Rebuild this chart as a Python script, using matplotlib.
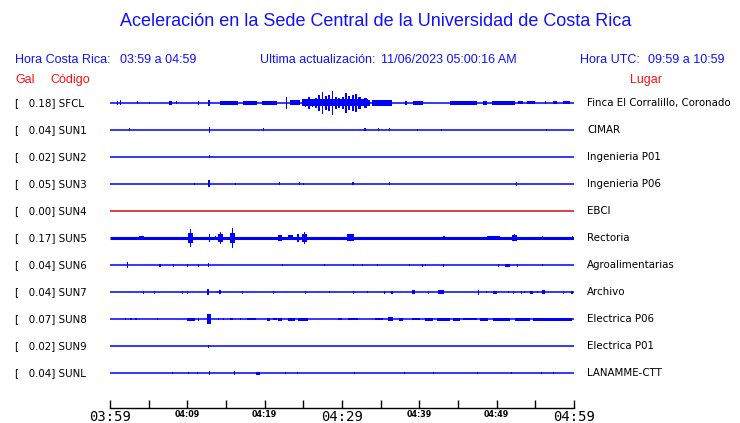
import matplotlib
matplotlib.use('Agg')
from matplotlib import pyplot as plt

# stations, top to bottom
codes = ['SFCL', 'SUN1', 'SUN2', 'SUN3', 'SUN4', 'SUN5',
         'SUN6', 'SUN7', 'SUN8', 'SUN9', 'SUNL']
peaks = [0.18, 0.04, 0.02, 0.05, 0.00, 0.17, 0.04, 0.04, 0.07, 0.02, 0.04]
places = ['Finca El Corralillo, Coronado', 'CIMAR', 'Ingenieria P01',
          'Ingenieria P06', 'EBCI', 'Rectoria', 'Agroalimentarias',
          'Archivo', 'Electrica P06', 'Electrica P01', 'LANAMME-CTT']

# time axis: minutes after 03:59
tick_minutes = list(range(0, 61, 5))
tick_labels = ['03:59', '', '04:09', '', '04:19', '', '04:29',
               '', '04:39', '', '04:49', '', '04:59']

# trace activity: (start minute, duration, amplitude)
sfcl = [(0.9, 0, 2), (1.3, 0.15, 2.5), (3.5, 0, 1.5), (5.0, 0, 1),
        (7.6, 0.4, 2), (8.5, 0, 1.5), (11.4, 0.1, 2), (12.7, 0.25, 3),
        (14.2, 2.3, 2), (17.2, 1.8, 2), (19.7, 1.9, 2), (22.8, 0, 6),
        (23.3, 1.3, 2.5), (24.8, 8.6, 3.5),
        (24.8, 0.2, 3), (25.2, 0.2, 4), (25.6, 0.25, 6), (26.1, 0.2, 4),
        (26.5, 0.25, 5), (26.9, 0.3, 8), (27.4, 0.2, 11), (27.8, 0.25, 7),
        (28.2, 0.25, 8), (28.7, 0.2, 12), (29.1, 0.25, 6), (29.5, 0.25, 5),
        (30.0, 0.25, 6), (30.4, 0.25, 10), (30.8, 0.25, 7), (31.3, 0.2, 8),
        (31.7, 0.2, 9), (32.1, 0.4, 6), (32.8, 0.4, 5), (33.4, 0.2, 3),
        (33.9, 2.6, 3), (38.15, 0.25, 2), (39.2, 1.3, 2), (44.0, 3.5, 2),
        (48.2, 0.5, 2), (49.4, 3.0, 2), (52.8, 0.6, 1.5), (53.9, 1.1, 1.5),
        (56.25, 0, 1.5), (57.3, 0.5, 1.5), (58.6, 0.9, 1.5)]
sun1 = [(2.5, 0, 1.5), (12.84, 0, 3), (19.8, 0, 1.5), (32.85, 0.25, 1.5),
        (34.7, 0, 1.5), (36.1, 0, 1.5), (39.7, 0, 1), (42.8, 0, 1),
        (56.4, 0, 1)]
sun2 = [(12.76, 0.13, 1.5)]
sun3 = [(10.9, 0, 1), (12.7, 0.25, 3.5), (16.2, 0, 1), (21.85, 0, 1.5),
        (24.4, 0.2, 1.5), (24.9, 0, 1), (31.3, 0.25, 1.5), (36.1, 0, 1.5),
        (52.5, 0, 2)]
sun4 = []
sun5 = [(3.75, 0.65, 2), (10.1, 0.65, 5), (10.35, 0.12, 9), (12.8, 0, 4),
        (13.6, 0, 2), (14.0, 0.6, 4), (14.25, 0.12, 6), (15.5, 0.65, 5),
        (15.75, 0.12, 10), (21.7, 0.5, 3), (23.0, 0.65, 2.5),
        (24.2, 0.25, 4), (24.85, 0.6, 4), (25.1, 0.15, 6), (30.65, 0.9, 3.5),
        (43.1, 0.25, 2), (48.75, 1.7, 2), (52.0, 0.65, 3), (52.25, 0.12, 3.5),
        (55.86, 0, 2), (59.8, 0, 2)]
sun6 = [(2.2, 0.15, 3), (6.35, 0.2, 1.5), (8.15, 0, 1.5), (9.9, 0.25, 1.5),
        (11.35, 0.2, 1.5), (12.67, 0, 2), (22.24, 0, 1), (27.67, 0, 1),
        (31.42, 0, 0.7), (32.59, 0, 0.7), (34.53, 0, 1), (38.66, 0, 1),
        (40.3, 0.2, 1.5), (40.73, 0, 1), (43.06, 0, 1.5), (50.17, 0, 1.5),
        (51.1, 0.6, 1.5), (52.63, 0, 1.5), (55.86, 0, 1)]
sun7 = [(4.23, 0, 1.5), (5.73, 0, 1.5), (9.27, 0, 1.5), (9.92, 0, 1.5),
        (12.6, 0.26, 3), (13.8, 0, 1), (14.1, 0.3, 1.7), (17.03, 0, 1.5),
        (21.04, 0, 1.5), (25.18, 0, 1.5), (28.28, 0, 1), (31.38, 0, 1.5),
        (33.2, 0, 1), (35.43, 0, 1.5), (36.3, 0.25, 1.5), (39.0, 0.43, 2),
        (41.08, 0, 1.5), (42.45, 0.78, 2), (47.55, 0, 2.5), (48.58, 0, 1),
        (49.57, 0.44, 1.5), (51.5, 0, 0.7), (52.15, 0, 1.5), (53.1, 0, 1.5),
        (53.54, 0, 1), (54.3, 0.43, 1.5), (55.26, 0, 1), (55.8, 0.43, 2),
        (58.54, 0, 1.5), (59.6, 0.3, 1.5)]
sun8 = [(1.94, 0, 0.7), (2.6, 0.25, 0.7), (3.2, 0.3, 0.7), (6.08, 0, 0.7),
        (9.96, 1.0, 1.5), (11.38, 0.1, 1.5), (12.54, 0.5, 5), (13.97, 0, 0.7),
        (14.61, 0, 1), (15.52, 0.4, 1), (16.81, 0, 1), (17.72, 1.15, 1.2),
        (20.3, 0.4, 1.5), (21.08, 0.5, 1), (21.72, 0.5, 1.5), (23.02, 0.9, 1.5),
        (24.31, 1.3, 1.5), (29.48, 0.5, 1), (30.78, 1.3, 1), (34.27, 1.0, 1),
        (35.95, 0.65, 2), (37.37, 0.5, 1.5), (39.05, 1.05, 1), (40.73, 1.05, 1.5),
        (42.29, 1.7, 1.5), (44.36, 0.9, 1.5), (45.65, 1.8, 1.2), (47.85, 1.0, 1.5),
        (49.53, 2.2, 1.5), (52.37, 1.95, 1.5), (54.7, 5.1, 1.5)]
sun9 = [(12.67, 0.13, 1.5)]
sunl = [(8.02, 0, 1), (10.09, 0, 1), (11.25, 0, 1), (12.8, 0.13, 2),
        (16.03, 0.13, 2), (18.9, 0.5, 1.5), (22.63, 0, 1), (24.18, 0, 1),
        (31.55, 0, 1), (38.02, 0, 1), (41.77, 0, 1), (47.46, 0, 1),
        (51.86, 0, 1), (55.73, 0, 1), (57.29, 0, 1)]
events = [sfcl, sun1, sun2, sun3, sun4, sun5, sun6, sun7, sun8, sun9, sunl]

BLUE = '#0000ff'
TXT_BLUE = '#1010ff'
RED = '#ff1010'
W, H = 740, 423


def fy(py):
    return 1 - py / H


fig = plt.figure(figsize=(W / 100, H / 100), dpi=100)
sans = 'Liberation Sans'

fig.text(376 / W, fy(22), 'Aceleración en la Sede Central de la Universidad de Costa Rica',
         ha='center', va='center', color=TXT_BLUE, fontsize=13, family=sans)

fig.text(15 / W, fy(60), 'Hora Costa Rica:', va='center', color=TXT_BLUE,
         fontsize=9, family=sans)
fig.text(120 / W, fy(60), '03:59 a 04:59', va='center', color=TXT_BLUE,
         fontsize=9, family=sans)
fig.text(260 / W, fy(60), 'Ultima actualización:', va='center', color=TXT_BLUE,
         fontsize=9, family=sans)
fig.text(381 / W, fy(60), '11/06/2023 05:00:16 AM', va='center', color=TXT_BLUE,
         fontsize=9, family=sans)
fig.text(580 / W, fy(60), 'Hora UTC:', va='center', color=TXT_BLUE,
         fontsize=9, family=sans)
fig.text(725 / W, fy(60), '09:59 a 10:59', ha='right', va='center',
         color=TXT_BLUE, fontsize=9, family=sans)

fig.text(15 / W, fy(80), 'Gal', va='center', color=RED, fontsize=9, family=sans)
fig.text(50 / W, fy(80), 'Código', va='center', color=RED, fontsize=9, family=sans)
fig.text(630 / W, fy(80), 'Lugar', va='center', color=RED, fontsize=9, family=sans)

# trace panel: rows spaced 27 px starting at y=103, time axis at y=408
top_px, bot_px, row0, row_px = 90, 408, 103, 27
ax = fig.add_axes([110 / W, (H - bot_px) / H, 464 / W, (bot_px - top_px) / H])
ax.set_xlim(0, 60)
ax.set_ylim((bot_px - row0) / row_px, (top_px - row0) / row_px)
s = 1 / row_px

for i, (code, pk, place, ev) in enumerate(zip(codes, peaks, places, events)):
    y = fy(row0 + i * row_px)
    fig.text(15 / W, y, f'[   {pk:.2f}] {code}', va='center', fontsize=7.4,
             family='DejaVu Sans')
    fig.text(587 / W, y, place, va='center', fontsize=7.4, family='DejaVu Sans')
    color = '#d01010' if pk == 0 else BLUE
    lw = 2.2 if code == 'SUN5' else 1.1
    ax.plot([0, 60], [i, i], color=color, lw=lw, solid_capstyle='butt')
    for t, dur, amp in ev:
        ax.bar(t, 2 * amp * s, width=max(dur, 0.13), bottom=i - amp * s,
               align='edge', color=color, linewidth=0)

for side in ['top', 'left', 'right']:
    ax.spines[side].set_visible(False)
ax.spines['bottom'].set_linewidth(1)
ax.set_yticks([])
ax.set_xticks(tick_minutes)
ax.set_xticklabels(tick_labels)
ax.tick_params(axis='x', direction='in', length=6, width=1, pad=1.5)
for lab, m in zip(ax.get_xticklabels(), tick_minutes):
    if m % 30 == 0:
        lab.set_family('DejaVu Sans Mono')
        lab.set_fontsize(10)
    else:
        lab.set_family('DejaVu Sans')
        lab.set_fontsize(5.8)
        lab.set_fontweight('bold')

fig.savefig('out.png', dpi=100)
